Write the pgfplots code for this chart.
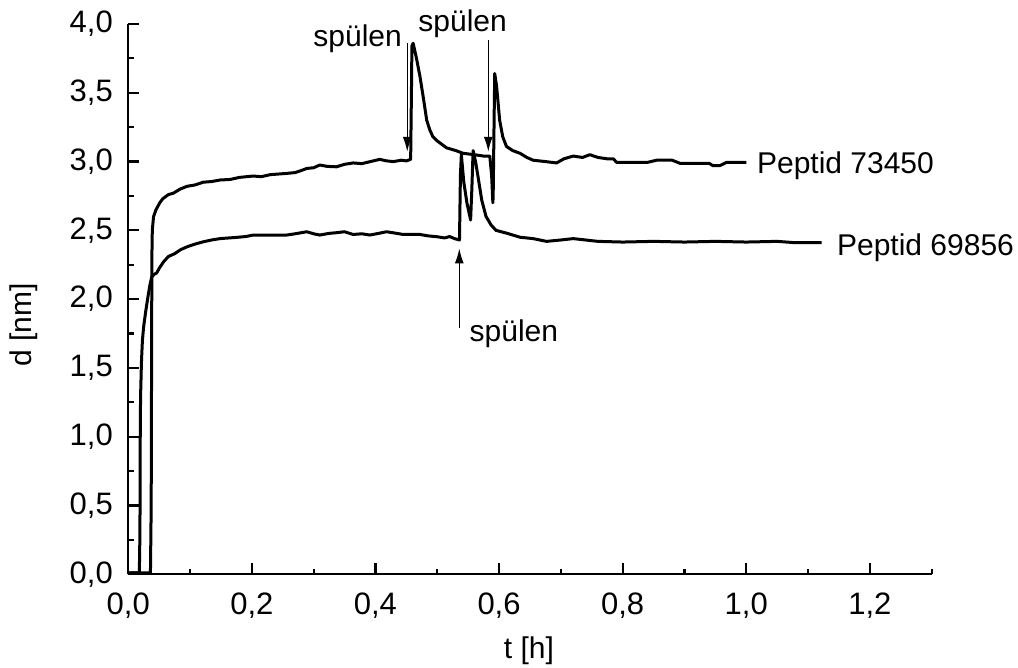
\documentclass[border=0pt]{standalone}
\usepackage{fontspec}
\setmainfont{Liberation Sans}
\usepackage{pgfplots}
\pgfplotsset{compat=1.18}
\usetikzlibrary{arrows.meta}
\begin{document}
\begin{tikzpicture}[font=\fontsize{15}{18}\selectfont]
\begin{axis}[
  scale only axis, width=401.75pt, height=275.15pt,
  xmin=0, xmax=1.3, ymin=0, ymax=4.0,
  axis x line=bottom, axis y line=left,
  axis line style={-, line width=1.1pt},
  every tick/.style={black, line width=1.1pt},
  tick align=inside,
  major tick length=5.5pt, minor tick length=2.8pt,
  xtick={0,0.2,...,1.2}, minor xtick={0.1,0.3,...,1.31},
  ytick={0,0.5,...,4.0}, minor ytick={0.25,0.75,...,3.8},
  /pgf/number format/assume math mode=true,
  /pgf/number format/use comma,
  /pgf/number format/fixed, /pgf/number format/fixed zerofill,
  /pgf/number format/precision=1,
  xticklabel style={inner sep=0pt, yshift=-9pt, font=\fontsize{15.5}{18.6}\selectfont},
  yticklabel style={inner sep=0pt, xshift=-7.5pt, font=\fontsize{15.5}{18.6}\selectfont},
  xlabel={t [h]}, ylabel={d [nm]},
  xlabel style={at={(axis description cs:0.4988,-0.1394)}, anchor=center, font=\fontsize{15}{18}\selectfont},
  ylabel style={at={(axis description cs:-0.1297,0.453)}, anchor=center, rotate=0, font=\fontsize{15}{18}\selectfont},
  clip=false,
]
% Peptid 73450
\addplot[black, line width=1.5pt, line join=round] coordinates {
(0,0.01) (0.036,0.01) (0.0372,0.5) (0.0378,1.5) (0.0383,2.3) (0.039,2.5) (0.041,2.60) (0.045,2.65)
(0.051,2.70) (0.056,2.73) (0.065,2.76) (0.073,2.77) (0.084,2.80) (0.095,2.82) (0.108,2.83)
(0.1215,2.85) (0.135,2.855) (0.1485,2.866) (0.165,2.87) (0.18,2.885) (0.2024,2.895) (0.215,2.89)
(0.23,2.905) (0.2564,2.914) (0.27,2.92) (0.28,2.935) (0.289,2.95) (0.30,2.955) (0.310,2.975)
(0.322,2.965) (0.337,2.962) (0.35,2.98) (0.364,2.99) (0.378,2.985) (0.391,2.999) (0.407,3.016)
(0.418,3.005) (0.429,3.0) (0.442,3.01) (0.450,3.005) (0.457,3.016)
(0.4585,3.6) (0.459,3.84) (0.461,3.86) (0.466,3.76) (0.472,3.62) (0.478,3.45) (0.483,3.30)
(0.488,3.23) (0.493,3.18) (0.50,3.15) (0.515,3.10) (0.53,3.08) (0.542,3.06) (0.56,3.05)
(0.575,3.04) (0.585,3.04) (0.588,2.9) (0.590,2.70) (0.5905,2.75) (0.592,3.3) (0.593,3.64)
(0.596,3.55) (0.601,3.30) (0.606,3.18) (0.612,3.11) (0.622,3.08) (0.634,3.06) (0.645,3.03)
(0.655,3.01) (0.675,3.00) (0.693,2.99) (0.705,3.02) (0.72,3.04) (0.735,3.03) (0.747,3.05)
(0.76,3.03) (0.775,3.02) (0.785,3.02) (0.79,2.995) (0.84,2.994) (0.855,3.01) (0.88,3.01)
(0.893,2.987) (0.94,2.987) (0.946,2.97) (0.957,2.97) (0.968,2.994) (1.0,2.994)
};
% Peptid 69856
\addplot[black, line width=1.5pt, line join=round] coordinates {
(0,0.01) (0.018,0.01) (0.019,0.3) (0.0195,1.0) (0.020,1.29) (0.0215,1.55) (0.023,1.70)
(0.025,1.80) (0.028,1.90) (0.031,1.99) (0.035,2.10) (0.038,2.16) (0.042,2.18) (0.046,2.19)
(0.051,2.23) (0.057,2.27) (0.065,2.31) (0.075,2.33) (0.085,2.36) (0.095,2.38) (0.108,2.40)
(0.1215,2.417) (0.135,2.43) (0.1485,2.44) (0.1755,2.449) (0.19,2.455) (0.2024,2.466)
(0.229,2.466) (0.2564,2.466) (0.27,2.475) (0.289,2.49) (0.30,2.475) (0.31,2.466) (0.325,2.478)
(0.337,2.483) (0.35,2.49) (0.364,2.47) (0.378,2.475) (0.391,2.466) (0.405,2.478) (0.418,2.49)
(0.432,2.48) (0.445,2.47) (0.472,2.47) (0.485,2.46) (0.499,2.454) (0.512,2.445) (0.52,2.455) (0.528,2.44)
(0.536,2.43) (0.5375,2.9) (0.539,3.05) (0.543,2.85) (0.548,2.70) (0.554,2.575) (0.556,2.8)
(0.558,3.08) (0.562,3.0) (0.566,2.89) (0.572,2.72) (0.579,2.60) (0.587,2.54) (0.595,2.50)
(0.612,2.48) (0.634,2.45) (0.655,2.44) (0.677,2.42) (0.70,2.43) (0.72,2.44) (0.74,2.43)
(0.76,2.42) (0.80,2.415) (0.85,2.42) (0.90,2.415) (0.95,2.42) (1.0,2.415) (1.05,2.42)
(1.08,2.41) (1.122,2.41)
};
\draw[line width=0.7pt, -{Latex[length=7.5pt,width=4.5pt]}] (axis cs:0.4515,3.859) -- (axis cs:0.4515,3.071);
\draw[line width=0.7pt, -{Latex[length=7.5pt,width=4.5pt]}] (axis cs:0.5826,3.883) -- (axis cs:0.5826,3.071);
\draw[line width=0.7pt, -{Latex[length=7.5pt,width=4.5pt]}] (axis cs:0.5357,1.788) -- (axis cs:0.5357,2.369);
\node[anchor=base west, inner sep=0pt] at (axis cs:0.299,3.834) {spülen};
\node[anchor=base west, inner sep=0pt] at (axis cs:0.4689,3.943) {spülen};
\node[anchor=base west, inner sep=0pt] at (axis cs:0.5519,1.695) {spülen};
\node[anchor=base west, inner sep=0pt] at (axis cs:1.0168,2.914) {Peptid 73450};
\node[anchor=base west, inner sep=0pt] at (axis cs:1.1463,2.320) {Peptid 69856};
\end{axis}
\pgfresetboundingbox
\path (-64.1pt,-46.85pt) rectangle (444.9pt,287.15pt);
\end{tikzpicture}
\end{document}
